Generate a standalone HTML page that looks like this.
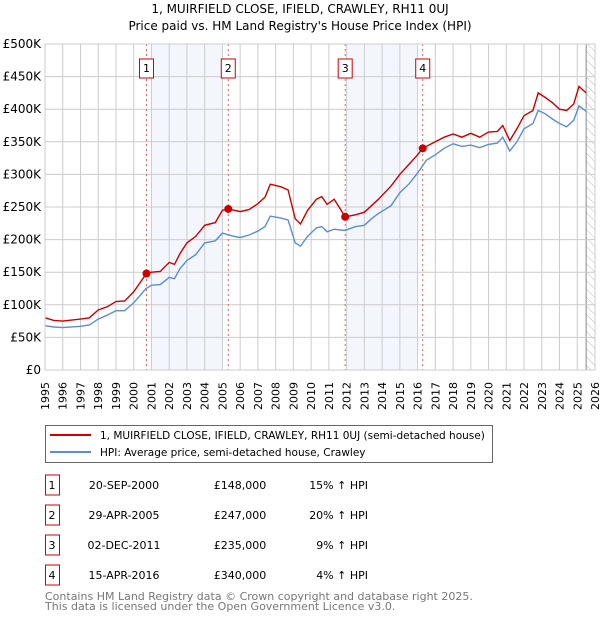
<!DOCTYPE html>
<html><head><meta charset="utf-8"><style>
body{margin:0;background:#fff;font-family:"DejaVu Sans","Liberation Sans",sans-serif;}
svg text{font-family:"DejaVu Sans","Liberation Sans",sans-serif;}
</style></head><body>
<svg id="chart" width="600" height="620" xmlns="http://www.w3.org/2000/svg">
<defs><pattern id="hatch" width="6" height="6" patternUnits="userSpaceOnUse" patternTransform="rotate(-45)"><line x1="0" y1="0" x2="0" y2="6" stroke="#bbb" stroke-width="1"/></pattern></defs>
<text x="300" y="13" text-anchor="middle" font-size="12">1, MUIRFIELD CLOSE, IFIELD, CRAWLEY, RH11 0UJ</text>
<text x="300" y="30" text-anchor="middle" font-size="12">Price paid vs. HM Land Registry's House Price Index (HPI)</text>
<g id="plot"></g>
<g>
<rect x="45.5" y="425.5" width="447" height="37" fill="#fff" stroke="#666"/>
<line x1="50" y1="435" x2="91" y2="435" stroke="#cc0000" stroke-width="2"/>
<text x="100" y="439" font-size="10.5">1, MUIRFIELD CLOSE, IFIELD, CRAWLEY, RH11 0UJ (semi-detached house)</text>
<line x1="50" y1="452" x2="91" y2="452" stroke="#5b8ed0" stroke-width="2"/>
<text x="100" y="456" font-size="10.5">HPI: Average price, semi-detached house, Crawley</text>
</g>
<g id="table" font-size="11"></g>
<text x="45" y="600" font-size="11" fill="#777">Contains HM Land Registry data © Crown copyright and database right 2025.</text>
<text x="45" y="610" font-size="11" fill="#777">This data is licensed under the Open Government Licence v3.0.</text>
</svg>
<script>
const years=[1995,1996,1997,1998,1999,2000,2001,2002,2003,2004,2005,2006,2007,2008,2009,2010,2011,2012,2013,2014,2015,2016,2017,2018,2019,2020,2021,2022,2023,2024,2025,2026];
const yTicks=[0,50000,100000,150000,200000,250000,300000,350000,400000,450000,500000];
const yTickLabels=["£0","£50K","£100K","£150K","£200K","£250K","£300K","£350K","£400K","£450K","£500K"];
const hpiT=[1995,1995.5,1996,1997,1997.5,1998,1998.5,1999,1999.5,2000,2000.7,2001,2001.5,2002,2002.3,2002.6,2003,2003.5,2004,2004.6,2005,2005.5,2006,2006.5,2007,2007.4,2007.7,2008.3,2008.7,2009.1,2009.4,2009.8,2010.3,2010.6,2010.9,2011.3,2011.9,2012.5,2013,2013.4,2013.8,2014.5,2015,2015.5,2016,2016.5,2017,2017.5,2018,2018.5,2019,2019.5,2020,2020.5,2020.8,2021.2,2021.6,2022,2022.5,2022.8,2023.2,2023.6,2024,2024.4,2024.8,2025.1,2025.5];
const hpiV=[68000,66000,65000,67000,69000,78000,84000,91000,91000,103000,125000,130000,131000,142000,140000,155000,168000,177000,195000,198000,210000,206000,203000,207000,213000,220000,236000,233000,230000,195000,190000,205000,218000,220000,212000,216000,214000,220000,222000,232000,240000,252000,272000,285000,302000,322000,330000,340000,347000,343000,345000,341000,346000,348000,357000,336000,350000,370000,378000,398000,393000,385000,378000,373000,383000,405000,397000];
const ppT=[1995,1995.5,1996,1997,1997.5,1998,1998.5,1999,1999.5,2000,2000.72,2001,2001.5,2002,2002.3,2002.6,2003,2003.5,2004,2004.6,2005.0,2005.33,2006,2006.5,2007,2007.4,2007.7,2008.3,2008.7,2009.1,2009.4,2009.8,2010.3,2010.6,2010.9,2011.3,2011.92,2012.5,2013,2013.4,2013.8,2014.5,2015,2015.5,2016,2016.29,2017,2017.5,2018,2018.5,2019,2019.5,2020,2020.5,2020.8,2021.2,2021.6,2022,2022.5,2022.8,2023.2,2023.6,2024,2024.4,2024.8,2025.1,2025.5];
const ppV=[80000,76000,75000,78000,80000,92000,97000,105000,106000,120000,148000,150000,151000,165000,162000,178000,195000,205000,222000,226000,245000,247000,243000,246000,255000,265000,285000,281000,276000,232000,224000,245000,262000,266000,254000,262000,235000,238000,242000,252000,262000,282000,300000,315000,330000,340000,350000,357000,362000,357000,363000,357000,365000,366000,375000,352000,370000,390000,398000,425000,418000,410000,400000,398000,408000,435000,425000];
const saleT=[2000.72,2005.33,2011.92,2016.29];
const saleV=[148000,247000,235000,340000];
const saleLabels=["1","2","3","4"];
const saleDates=["20-SEP-2000","29-APR-2005","02-DEC-2011","15-APR-2016"];
const salePrices=["£148,000","£247,000","£235,000","£340,000"];
const salePct=["15%","20%","9%","4%"];
const NS="http://www.w3.org/2000/svg";
const X0=45,X1=595,Y0=370,Y1=44;
const xs=t=>X0+(t-1995)/(2026-1995)*(X1-X0);
const ys=v=>Y0-v/500000*(Y0-Y1);
const plot=document.getElementById('plot');
function mk(tag,attrs,parent){const e=document.createElementNS(NS,tag);for(const k in attrs)e.setAttribute(k,attrs[k]);(parent||plot).appendChild(e);return e;}
for(let i=0;i<saleT.length;i+=2){const a=Math.ceil(saleT[i]),b=Math.floor(saleT[i+1]);
const r=mk('rect',{x:xs(a),y:Y1,width:xs(b)-xs(a),height:Y0-Y1,fill:'#f3f6fd'});

}
const h=mk('rect',{x:xs(2025.5),y:Y1,width:X1-xs(2025.5),height:Y0-Y1,fill:'url(#hatch)'});


mk('line',{x1:xs(2025.5),y1:Y1,x2:xs(2025.5),y2:Y0,stroke:'#888'});
years.forEach(y=>{const l=mk('line',{x1:xs(y),y1:Y1,x2:xs(y),y2:Y0,stroke:'#ccc'});


const t=mk('text',{x:0,y:0,'font-size':11,'text-anchor':'end',transform:`translate(${xs(y)+4},${Y0+12}) rotate(-90)`});t.textContent=y;

});
yTicks.forEach((v,i)=>{const l=mk('line',{x1:X0,y1:ys(v),x2:X1,y2:ys(v),stroke:'#ccc'});


const t=mk('text',{x:X0-4,y:ys(v)+4,'font-size':12,'text-anchor':'end'});t.textContent=yTickLabels[i];

});
saleT.forEach((t,i)=>{const l=mk('line',{x1:xs(t),y1:Y1,x2:xs(t),y2:Y0,stroke:'#e06060','stroke-dasharray':'2,3'});


const b=mk('rect',{x:xs(t)-7,y:59,width:14,height:19,fill:'#fff',stroke:'#cc0000'});


const tx=mk('text',{x:xs(t),y:72,'font-size':11,'text-anchor':'middle'});tx.textContent=saleLabels[i];

});
function path(T,V,col,name){const d=T.map((t,i)=>(i?'L':'M')+xs(t).toFixed(1)+','+ys(V[i]).toFixed(1)).join('');
const p=mk('path',{d:d,fill:'none',stroke:col,'stroke-width':1.4});

}
path(hpiT,hpiV,'#5b8ed0','hpi-line');
path(ppT,ppV,'#cc0000','price-paid-line');
saleT.forEach((t,i)=>{const c=mk('circle',{cx:xs(t),cy:ys(saleV[i]),r:4,fill:'#cc0000'});

});
mk('rect',{x:X0,y:Y1,width:X1-X0,height:Y0-Y1,fill:'none',stroke:'#ccc'});
const tb=document.getElementById('table');
saleLabels.forEach((s,i)=>{const cy=485+i*30;
const b=mk('rect',{x:45.5,y:cy-10,width:14,height:20,fill:'#fff',stroke:'#cc0000'},tb);


const cells=[[52,s,'middle'],[124,saleDates[i],'middle'],[240,salePrices[i],'middle'],[368,salePct[i]+' ↑ HPI','end']];
const names=['table-row-number','table-date','table-price','table-hpi-diff'];
cells.forEach((c,j)=>{const t=mk('text',{x:c[0],y:cy+4,'text-anchor':c[2]},tb);t.textContent=c[1];

});});
</script>
</body></html>
